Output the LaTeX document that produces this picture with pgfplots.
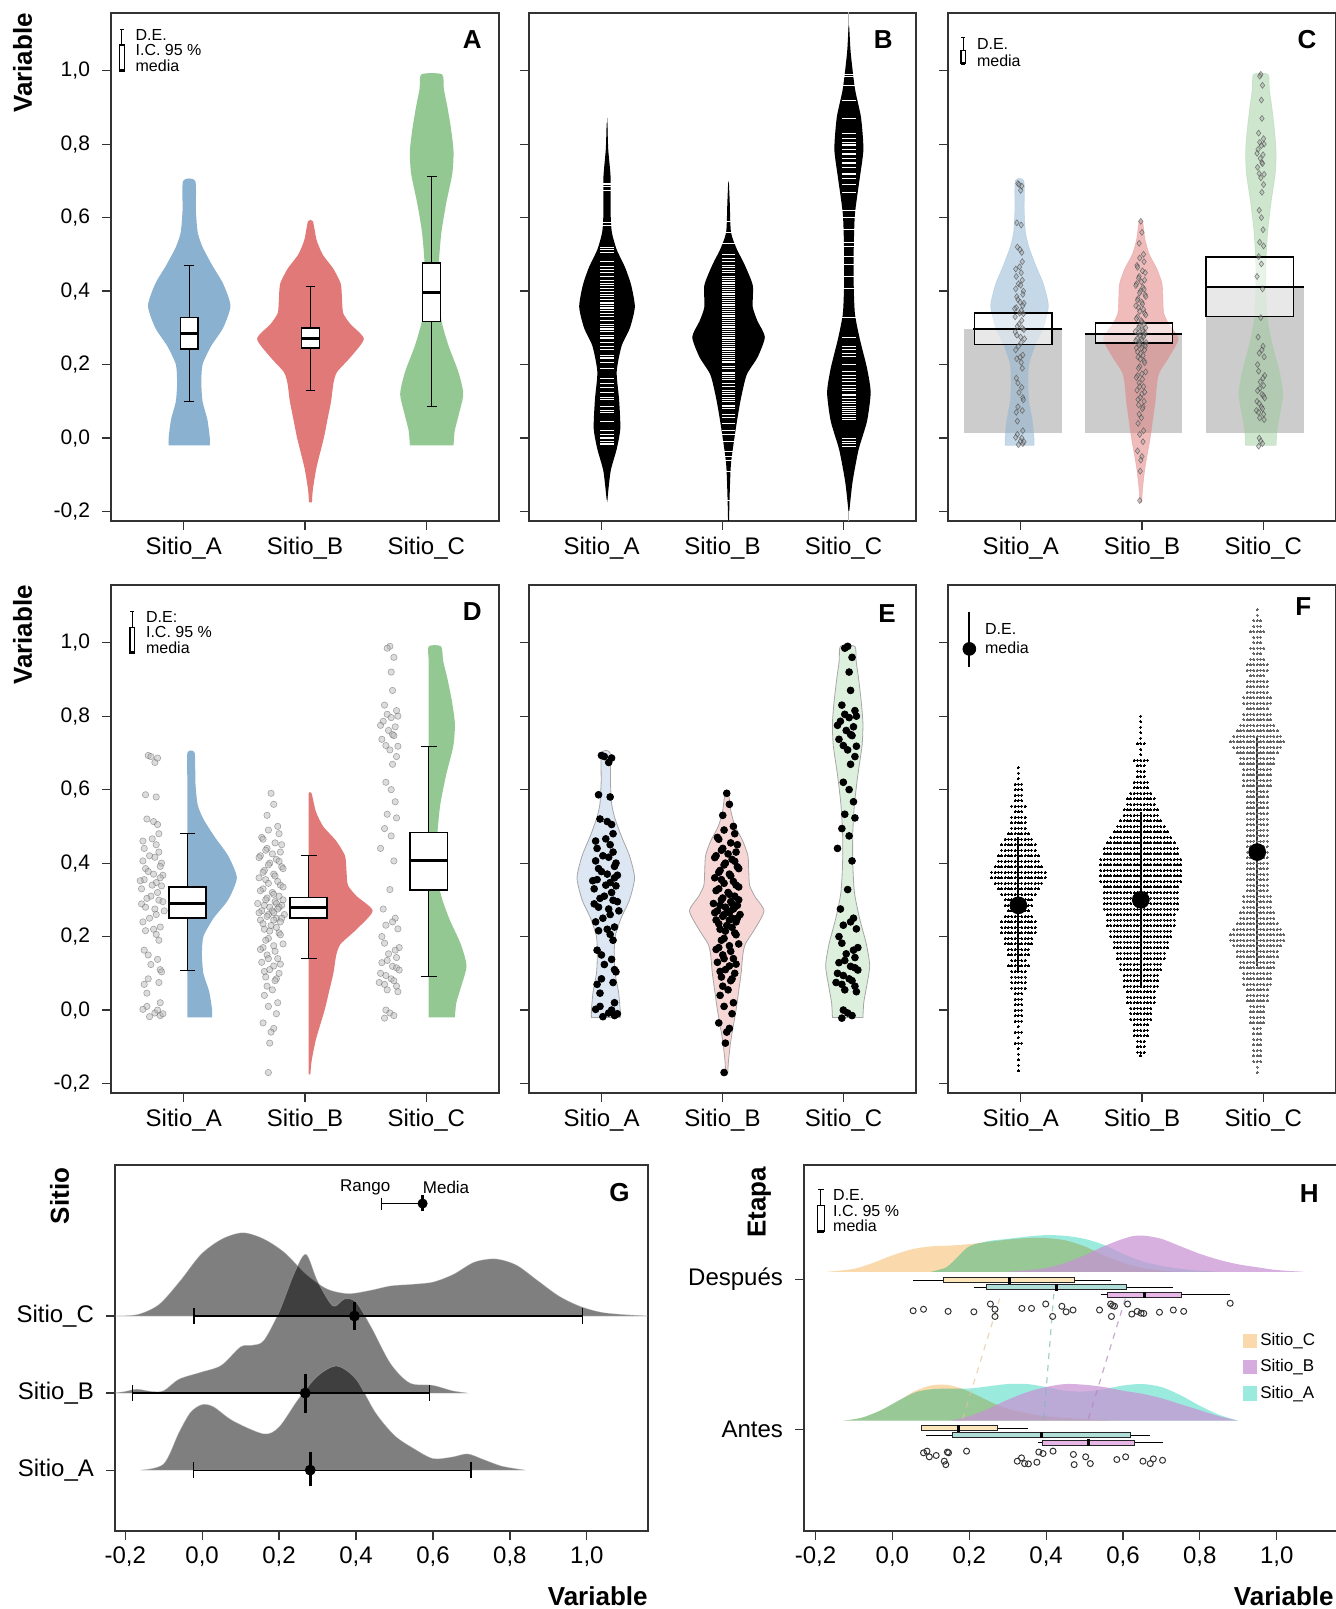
\documentclass[border=0pt]{standalone}
\usepackage{fontspec}
\setmainfont{Liberation Sans}
\usepackage{pgfplots}
\usepackage{pgfplotstable}
\pgfplotsset{compat=1.18}

\definecolor{cA}{RGB}{138,177,208}
\definecolor{cB}{RGB}{224,121,119}
\definecolor{cC}{RGB}{147,200,147}
\definecolor{eA}{RGB}{220,231,243}
\definecolor{eB}{RGB}{247,214,214}
\definecolor{eC}{RGB}{221,239,221}
\definecolor{barg}{RGB}{204,204,204}
\definecolor{hO}{RGB}{250,218,172}
\definecolor{hP}{RGB}{200,145,212}
\definecolor{hPl}{RGB}{214,172,223}
\definecolor{hC}{RGB}{155,234,222}
\definecolor{bO}{RGB}{250,230,185}
\definecolor{bC}{RGB}{175,222,216}
\definecolor{bP}{RGB}{232,182,230}

% ---------- violin profiles (panel A shapes) ----------
\pgfplotstableread{
y w
-0.02 0.17
0.0 0.17
0.05 0.15
0.10 0.11
0.15 0.10
0.20 0.11
0.25 0.18
0.30 0.28
0.36 0.34
0.42 0.28
0.47 0.19
0.52 0.11
0.56 0.07
0.62 0.055
0.70 0.05
}\vA
\pgfplotstableread{
y w
-0.175 0.012
-0.14 0.02
-0.08 0.05
0.0 0.11
0.05 0.14
0.10 0.17
0.15 0.19
0.18 0.22
0.22 0.33
0.27 0.44
0.31 0.33
0.34 0.27
0.38 0.26
0.42 0.25
0.46 0.19
0.50 0.10
0.54 0.05
0.59 0.02
}\vB
\pgfplotstableread{
y w
-0.02 0.18
0.02 0.19
0.06 0.22
0.12 0.26
0.18 0.22
0.25 0.14
0.32 0.08
0.40 0.06
0.48 0.06
0.56 0.08
0.64 0.12
0.72 0.17
0.78 0.18
0.84 0.16
0.90 0.13
0.95 0.10
0.99 0.085
}\vC
% ---------- panel B (bean) profiles ----------
\pgfplotstableread{
y w
-0.168 0.003
-0.09 0.03
-0.03 0.08
0.026 0.11
0.104 0.10
0.18 0.08
0.25 0.12
0.30 0.19
0.357 0.23
0.416 0.20
0.464 0.15
0.513 0.08
0.56 0.04
0.61 0.03
0.708 0.03
0.786 0.01
0.854 0.003
}\bnA
\pgfplotstableread{
y w
-0.227 0.004
-0.168 0.008
-0.07 0.02
0.026 0.06
0.104 0.10
0.172 0.15
0.22 0.24
0.275 0.30
0.318 0.24
0.357 0.20
0.416 0.20
0.474 0.13
0.513 0.07
0.56 0.02
0.64 0.01
0.693 0.003
}\bnB
\pgfplotstableread{
y w
-0.198 0.004
-0.12 0.03
-0.032 0.08
0.046 0.15
0.124 0.18
0.19 0.15
0.27 0.09
0.338 0.05
0.416 0.04
0.513 0.04
0.61 0.05
0.708 0.09
0.786 0.12
0.873 0.10
0.951 0.05
1.049 0.015
1.117 0.003
}\bnC
% ---------- observations (value, jitter) ----------
\pgfplotstableread{
y j
0.693 -0.03
0.674 0.02
0.686 0.04
0.69 -0.01
0.586 -0.05
0.58 0.03
0.52 -0.04
0.513 0.01
0.505 0.04
0.48 0.05
0.466 0.00
0.46 -0.07
0.45 0.03
0.44 -0.06
0.43 0.05
0.42 -0.02
0.416 0.02
0.406 -0.07
0.40 0.07
0.391 0.06
0.385 -0.05
0.377 -0.03
0.37 0.01
0.367 0.08
0.36 0.06
0.355 -0.06
0.352 -0.09
0.347 0.03
0.34 0.00
0.338 0.07
0.33 -0.08
0.32 0.04
0.31 -0.01
0.304 -0.04
0.299 0.05
0.295 0.08
0.289 -0.08
0.28 -0.05
0.275 0.02
0.27 0.09
0.26 0.03
0.25 -0.02
0.24 -0.07
0.226 0.06
0.22 0.01
0.216 -0.05
0.206 0.03
0.19 0.05
0.163 -0.06
0.15 -0.03
0.138 0.04
0.124 -0.01
0.11 0.06
0.104 0.07
0.085 -0.03
0.075 0.05
0.07 -0.06
0.046 -0.04
0.02 0.06
0.01 -0.04
0.002 -0.07
-0.008 0.02
-0.015 0.06
-0.018 -0.02
-0.01 0.08
0.0 0.04
}\dA
\pgfplotstableread{
y j
0.59 0.00
0.56 0.02
0.53 -0.03
0.50 0.05
0.49 -0.02
0.48 0.06
0.47 -0.07
0.465 -0.06
0.455 0.03
0.45 0.08
0.44 -0.03
0.435 -0.04
0.43 0.07
0.425 0.01
0.42 -0.08
0.415 -0.09
0.41 0.04
0.405 0.06
0.40 -0.01
0.395 -0.02
0.39 0.08
0.385 0.09
0.38 -0.05
0.375 -0.06
0.37 0.02
0.365 0.03
0.36 -0.09
0.355 -0.04
0.35 0.05
0.345 -0.02
0.34 0.07
0.335 0.09
0.33 -0.06
0.325 -0.08
0.32 0.01
0.315 0.02
0.31 0.06
0.305 -0.03
0.30 -0.04
0.30 0.09
0.295 0.03
0.29 -0.10
0.29 0.04
0.285 0.08
0.285 -0.05
0.28 -0.01
0.28 0.06
0.275 0.05
0.27 -0.07
0.27 0.01
0.265 0.02
0.265 -0.09
0.26 0.10
0.26 -0.02
0.255 -0.03
0.25 0.04
0.25 0.08
0.245 -0.08
0.245 0.02
0.24 0.07
0.235 -0.06
0.23 0.00
0.225 0.04
0.22 -0.05
0.215 -0.01
0.21 0.06
0.205 0.07
0.195 -0.02
0.19 -0.04
0.18 0.09
0.175 0.02
0.17 -0.06
0.165 -0.08
0.16 0.03
0.15 -0.03
0.14 0.05
0.14 -0.02
0.13 -0.07
0.125 0.07
0.12 0.02
0.11 -0.01
0.105 -0.05
0.10 0.06
0.09 -0.04
0.085 0.04
0.08 0.03
0.065 -0.03
0.055 0.01
0.04 -0.05
0.02 0.05
0.01 -0.02
-0.01 0.04
-0.035 -0.06
-0.05 0.02
-0.06 0.00
-0.09 -0.01
-0.17 -0.02
}\dB
\pgfplotstableread{
y j
0.99 0.00
0.985 -0.02
0.96 0.03
0.92 0.01
0.87 0.02
0.83 -0.04
0.815 0.05
0.805 -0.02
0.80 0.06
0.796 0.01
0.786 -0.05
0.775 -0.07
0.771 0.04
0.761 -0.01
0.75 0.02
0.747 0.03
0.737 -0.06
0.72 -0.03
0.718 0.06
0.708 0.00
0.69 0.05
0.669 0.02
0.62 -0.03
0.60 0.01
0.567 0.04
0.533 -0.02
0.523 0.05
0.494 -0.04
0.474 0.01
0.44 -0.07
0.406 0.03
0.328 0.00
0.275 -0.05
0.25 0.04
0.24 0.02
0.231 -0.03
0.221 0.06
0.20 -0.06
0.182 -0.04
0.17 0.07
0.163 0.04
0.153 -0.01
0.143 0.05
0.135 -0.02
0.129 -0.06
0.119 0.02
0.115 0.05
0.109 0.07
0.10 -0.07
0.094 -0.03
0.085 0.01
0.08 0.03
0.075 -0.08
0.07 -0.04
0.065 0.05
0.055 -0.02
0.05 0.06
0.0 -0.03
-0.008 0.00
-0.015 0.03
-0.022 -0.04
}\dC
% ---------- G ridges ----------
\pgfplotstableread{
x h
-0.227 0
-0.167 0.02
-0.112 0.15
-0.058 0.45
-0.003 0.80
0.052 1.0
0.106 1.08
0.16 1.0
0.215 0.82
0.27 0.54
0.325 0.35
0.38 0.29
0.435 0.33
0.49 0.39
0.544 0.41
0.60 0.44
0.653 0.54
0.708 0.70
0.763 0.74
0.817 0.66
0.872 0.46
0.927 0.26
0.98 0.13
1.035 0.05
1.09 0.02
1.16 0
}\gC
\pgfplotstableread{
x h
-0.23 0
-0.20 0.02
-0.17 0.05
-0.13 0.02
-0.10 0.03
-0.06 0.18
-0.003 0.27
0.05 0.36
0.10 0.60
0.13 0.62
0.16 0.68
0.20 1.05
0.24 1.56
0.27 1.80
0.30 1.45
0.34 1.13
0.37 1.22
0.40 1.18
0.44 0.85
0.49 0.38
0.54 0.13
0.60 0.10
0.65 0.03
0.69 0
}\gB
\pgfplotstableread{
x h
-0.16 0
-0.10 0.08
-0.06 0.49
-0.03 0.75
0.0 0.85
0.03 0.82
0.08 0.64
0.16 0.47
0.20 0.56
0.25 0.92
0.30 1.22
0.35 1.35
0.40 1.18
0.45 0.75
0.50 0.45
0.55 0.28
0.60 0.15
0.65 0.17
0.69 0.21
0.73 0.14
0.78 0.05
0.84 0
}\gA
% ---------- H ridges ----------
\pgfplotstableread{
x h
-0.17 0
-0.10 0.02
-0.05 0.06
0.0 0.11
0.05 0.15
0.10 0.17
0.15 0.175
0.20 0.185
0.25 0.20
0.30 0.215
0.35 0.225
0.40 0.225
0.45 0.21
0.50 0.17
0.55 0.11
0.60 0.06
0.65 0.025
0.70 0.008
0.75 0
}\hDC
\pgfplotstableread{
x h
0.10 0
0.14 0.03
0.17 0.10
0.20 0.17
0.25 0.205
0.30 0.22
0.35 0.235
0.40 0.245
0.45 0.24
0.50 0.22
0.55 0.18
0.60 0.12
0.65 0.07
0.70 0.04
0.75 0.02
0.80 0.008
0.85 0
}\hDA
\pgfplotstableread{
x h
0.30 0
0.35 0.01
0.40 0.025
0.45 0.06
0.50 0.11
0.55 0.17
0.60 0.22
0.63 0.24
0.66 0.24
0.70 0.22
0.75 0.17
0.80 0.12
0.85 0.08
0.90 0.05
0.95 0.03
1.00 0.012
1.07 0
}\hDB
\pgfplotstableread{
x h
-0.13 0
-0.08 0.02
-0.03 0.07
0.02 0.14
0.06 0.20
0.10 0.235
0.14 0.24
0.18 0.215
0.22 0.17
0.26 0.12
0.30 0.08
0.35 0.05
0.40 0.03
0.50 0.01
0.60 0
}\hAC
\pgfplotstableread{
x h
-0.13 0
-0.08 0.02
-0.03 0.07
0.02 0.14
0.06 0.19
0.10 0.21
0.15 0.215
0.20 0.215
0.25 0.23
0.30 0.245
0.35 0.245
0.40 0.225
0.45 0.20
0.50 0.195
0.55 0.21
0.60 0.235
0.65 0.245
0.70 0.225
0.75 0.17
0.80 0.10
0.85 0.04
0.90 0
}\hAA
\pgfplotstableread{
x h
0.15 0
0.20 0.03
0.25 0.08
0.30 0.14
0.35 0.19
0.40 0.225
0.45 0.245
0.50 0.24
0.55 0.225
0.60 0.20
0.65 0.18
0.70 0.15
0.75 0.11
0.80 0.07
0.85 0.03
0.90 0
}\hAB

% ---------- closed outlines: right side upward (s=1), then left side downward (s=-1) ----------
\newcommand{\mkfull}[2]{%
 \pgfplotstablesort[sort key=y, sort cmp=float >]{\tmpRev}{#1}%
 \pgfplotstablecreatecol[create col/set={-1}]{s}{\tmpRev}%
 \pgfplotstablesort[sort key=y, sort cmp=float <]{#2}{#1}%
 \pgfplotstablecreatecol[create col/set={1}]{s}{#2}%
 \pgfplotstablevertcat{#2}{\tmpRev}%
}
\mkfull{\vA}{\fvA}
\mkfull{\vB}{\fvB}
\mkfull{\vC}{\fvC}
\mkfull{\bnA}{\fbA}
\mkfull{\bnB}{\fbB}
\mkfull{\bnC}{\fbC}

% ---------- helpers ----------
\newcommand{\violin}[4]{%
 \addplot[#4, smooth, tension=0.4, forget plot] table[x expr={#2+#3*\thisrow{s}*\thisrow{w}}, y=y] {#1} -- cycle;
}
\newcommand{\halfviolin}[4]{%
 \addplot[#4, smooth, tension=0.4, forget plot] table[x expr={#2+#3*max(\thisrow{s},0)*\thisrow{w}}, y=y] {#1} -- cycle;
}
\newcommand{\boxv}[8]{%
 \pgfmathsetmacro\bxl{#1-#2}\pgfmathsetmacro\bxr{#1+#2}%
 \pgfmathsetmacro\cxl{#1-#8}\pgfmathsetmacro\cxr{#1+#8}%
 \edef\mytmp{\noexpand\addplot[black, line width=0.5pt] coordinates {(#1,#3) (#1,#4)};%
  \noexpand\addplot[black, line width=0.5pt] coordinates {(#1,#6) (#1,#7)};%
  \noexpand\addplot[black, line width=0.5pt] coordinates {(\cxl,#3) (\cxr,#3)};%
  \noexpand\addplot[black, line width=0.5pt] coordinates {(\cxl,#7) (\cxr,#7)};%
  \noexpand\addplot[fill=white, draw=black, line width=0.7pt] coordinates {(\bxl,#4) (\bxr,#4) (\bxr,#6) (\bxl,#6)} --cycle;%
  \noexpand\addplot[black, line width=1.6pt] coordinates {(\bxl,#5) (\bxr,#5)};}\mytmp
}
\newcommand{\boxh}[7]{%
 \pgfmathsetmacro\byl{#1-0.017}\pgfmathsetmacro\byu{#1+0.017}%
 \pgfmathsetmacro\myl{#1-0.021}\pgfmathsetmacro\myu{#1+0.021}%
 \edef\mytmp{\noexpand\addplot[black, line width=0.5pt] coordinates {(#2,#1) (#6,#1)};%
  \noexpand\addplot[fill=#7, draw=black!85, line width=0.5pt] coordinates {(#3,\byl) (#5,\byl) (#5,\byu) (#3,\byu)} --cycle;%
  \noexpand\addplot[black, line width=1.5pt] coordinates {(#4,\myl) (#4,\myu)};}\mytmp
}
\newcommand{\legglyph}[5]{%
 \pgfmathsetmacro\gl{#1-#5}\pgfmathsetmacro\gr{#1+#5}%
 \pgfmathsetmacro\gcl{#1-0.8*#5}\pgfmathsetmacro\gcr{#1+0.8*#5}%
 \edef\mytmp{\noexpand\addplot[black, line width=0.5pt] coordinates {(#1,#2) (#1,#3)};%
  \noexpand\addplot[black, line width=0.5pt] coordinates {(\gcl,#2) (\gcr,#2)};%
  \noexpand\addplot[fill=white, draw=black, line width=0.6pt] coordinates {(\gl,#4) (\gr,#4) (\gr,#3) (\gl,#3)} --cycle;%
  \noexpand\addplot[black, line width=1.5pt] coordinates {(\gl,#4) (\gr,#4)};}\mytmp
}
\newcommand{\buildbee}[3]{%
 \gdef#1{}%
 \foreach \yy/\nn in {#3}{%
  \foreach \kk in {-\nn,...,\nn}{%
   \pgfmathsetmacro\xx{#2+0.0275*\kk}%
   \xdef#1{#1 (\xx,\yy)}%
  }%
 }%
}

\pgfplotsset{
 panel/.style={scale only axis, anchor=north west,
   axis line style={black!80, line width=0.6pt},
   tick align=outside, tick pos=left, major tick length=4.5pt,
   tick style={black!80, line width=0.6pt},
   yticklabel style={xshift=-2.5pt}},
 rowpanel/.style={panel, width=194pt, height=254pt,
   xmin=0.4, xmax=3.6, ymin=-0.2257, ymax=1.157,
   xtick={1,2,3}, xticklabels={Sitio\_A,Sitio\_B,Sitio\_C},
   ytick={-0.2,0,0.2,0.4,0.6,0.8,1.0}, yticklabels={},
   xticklabel style={font=\fontsize{12}{12}\selectfont},
   yticklabel style={font=\fontsize{10.5}{10.5}\selectfont}},
 yvals/.style={yticklabels={{-0,2},{0,0},{0,2},{0,4},{0,6},{0,8},{1,0}}},
}
\tikzset{
 txt8/.style={anchor=west, inner sep=0pt, font=\fontsize{8}{8}\selectfont},
 letter/.style={inner sep=0pt, font=\bfseries\fontsize{13}{13}\selectfont},
}

\begin{document}%
\begin{tikzpicture}
\buildbee{\beeA}{0.98}{0.66/0,0.645/0,0.63/0,0.615/1,0.60/1,0.585/1,0.57/1,0.555/2,0.54/1,0.525/2,0.51/2,0.495/2,0.48/3,0.465/4,0.45/5,0.435/5,0.42/6,0.405/6,0.39/7,0.375/8,0.36/8,0.345/7,0.33/6,0.315/5,0.30/4,0.285/4,0.27/3,0.255/4,0.24/5,0.225/5,0.21/5,0.195/4,0.18/4,0.165/3,0.15/3,0.135/2,0.12/3,0.105/2,0.09/2,0.075/2,0.06/2,0.045/1,0.03/1,0.015/1,0.0/1,-0.015/1,-0.03/1,-0.045/0,-0.06/1,-0.075/0,-0.09/1,-0.105/0,-0.12/0,-0.135/0,-0.15/0,-0.165/0}
\buildbee{\beeB}{1.99}{0.80/0,0.785/0,0.77/0,0.755/0,0.74/0,0.725/1,0.71/0,0.695/0,0.68/2,0.665/1,0.65/1,0.635/1,0.62/2,0.605/2,0.59/3,0.575/4,0.56/4,0.545/5,0.53/5,0.515/6,0.50/7,0.485/8,0.47/9,0.455/10,0.44/11,0.425/11,0.41/12,0.395/12,0.38/12,0.365/12,0.35/12,0.335/11,0.32/11,0.305/11,0.29/11,0.275/11,0.26/10,0.245/10,0.23/10,0.215/9,0.20/9,0.185/8,0.17/8,0.155/7,0.14/7,0.125/6,0.11/6,0.095/5,0.08/5,0.065/5,0.05/4,0.035/4,0.02/4,0.005/3,-0.01/3,-0.025/3,-0.04/2,-0.055/2,-0.07/2,-0.085/1,-0.10/1,-0.115/1,-0.125/0}
\buildbee{\beeC}{2.95}{1.09/0,1.075/0,1.06/1,1.045/1,1.03/2,1.015/1,1.0/1,0.985/2,0.97/1,0.955/2,0.94/3,0.925/3,0.91/2,0.895/3,0.88/3,0.865/3,0.85/4,0.835/4,0.82/3,0.805/4,0.79/4,0.775/5,0.76/6,0.745/7,0.73/8,0.715/7,0.70/6,0.685/5,0.67/5,0.655/4,0.64/4,0.625/4,0.61/4,0.595/3,0.58/3,0.565/3,0.55/3,0.535/3,0.52/3,0.505/3,0.49/3,0.475/3,0.46/3,0.445/3,0.43/3,0.415/3,0.40/3,0.385/3,0.37/3,0.355/3,0.34/3,0.325/3,0.31/4,0.295/4,0.28/4,0.265/5,0.25/5,0.235/6,0.22/7,0.205/8,0.19/8,0.175/7,0.16/6,0.145/6,0.13/5,0.115/5,0.10/4,0.085/4,0.07/4,0.055/3,0.04/3,0.025/3,0.01/2,-0.005/2,-0.02/2,-0.035/2,-0.05/1,-0.065/1,-0.08/1,-0.095/1,-0.11/1,-0.125/1,-0.14/1,-0.155/0,-0.17/0}

% ================= A =================
\begin{axis}[rowpanel, yvals, at={(55.5pt,798pt)}]
\violin{\fvA}{1.045}{1}{fill=cA, draw=none}
\violin{\fvB}{2.045}{1}{fill=cB, draw=none}
\violin{\fvC}{3.045}{1}{fill=cC, draw=none}
\boxv{1.045}{0.074}{0.099}{0.242}{0.284}{0.328}{0.469}{0.04}
\boxv{2.045}{0.074}{0.129}{0.245}{0.272}{0.30}{0.413}{0.04}
\boxv{3.045}{0.074}{0.085}{0.318}{0.396}{0.476}{0.713}{0.04}
\legglyph{0.49}{1.112}{1.07}{1.0}{0.022}
\node[txt8] at (axis cs:0.60,1.098) {D.E.};
\node[txt8] at (axis cs:0.60,1.056) {I.C. 95 \%};
\node[txt8] at (axis cs:0.60,1.014) {media};
\node[letter] at (axis cs:3.38,1.084) {A};
\end{axis}

% ================= B =================
\begin{axis}[rowpanel, at={(264.5pt,798pt)}, width=193.5pt]
\addplot[gray!60, line width=0.4pt] coordinates {(1.045,-0.175) (1.045,0.87)};
\addplot[gray!60, line width=0.4pt] coordinates {(2.05,-0.23) (2.05,0.70)};
\addplot[gray!60, line width=0.4pt] coordinates {(3.045,-0.23) (3.045,1.16)};
\violin{\fbA}{1.045}{1}{fill=black, draw=none}
\violin{\fbB}{2.05}{1}{fill=black, draw=none}
\violin{\fbC}{3.045}{1}{fill=black, draw=none}
\addplot[only marks, mark=-, mark size=3.4pt, white, mark options={line width=0.4pt}] table[x expr=1.045, y=y] {\dA};
\addplot[only marks, mark=-, mark size=3.4pt, white, mark options={line width=0.4pt}] table[x expr=2.05, y=y] {\dB};
\addplot[only marks, mark=-, mark size=3.4pt, white, mark options={line width=0.4pt}] table[x expr=3.045, y=y] {\dC};
\node[letter] at (axis cs:3.33,1.084) {B};
\end{axis}

% ================= C =================
\begin{axis}[rowpanel, at={(474pt,798pt)}]
\addplot[fill=barg, draw=none] coordinates {(0.533,0.015) (1.339,0.015) (1.339,0.297) (0.533,0.297)} --cycle;
\addplot[fill=barg, draw=none] coordinates {(1.533,0.015) (2.333,0.015) (2.333,0.284) (1.533,0.284)} --cycle;
\addplot[fill=barg, draw=none] coordinates {(2.528,0.015) (3.333,0.015) (3.333,0.411) (2.528,0.411)} --cycle;
\violin{\fvA}{0.99}{0.7}{fill=cA, fill opacity=0.5, draw=cA!80, draw opacity=0.5, line width=0.3pt}
\violin{\fvB}{1.99}{0.7}{fill=cB, fill opacity=0.5, draw=cB!80, draw opacity=0.5, line width=0.3pt}
\violin{\fvC}{2.98}{0.7}{fill=cC, fill opacity=0.45, draw=cC!80, draw opacity=0.5, line width=0.3pt}
\addplot[only marks, mark=diamond*, mark size=1.5pt, mark options={fill=gray!70, draw=black!80, fill opacity=0.45, draw opacity=0.55, line width=0.3pt}] table[x expr={0.99+0.45*\thisrow{j}}, y=y] {\dA};
\addplot[only marks, mark=diamond*, mark size=1.5pt, mark options={fill=gray!70, draw=black!80, fill opacity=0.45, draw opacity=0.55, line width=0.3pt}] table[x expr={1.99+0.45*\thisrow{j}}, y=y] {\dB};
\addplot[only marks, mark=diamond*, mark size=1.5pt, mark options={fill=gray!70, draw=black!80, fill opacity=0.45, draw opacity=0.55, line width=0.3pt}] table[x expr={2.98+0.45*\thisrow{j}}, y=y] {\dC};
\addplot[fill=white, fill opacity=0.55, draw=black, line width=0.8pt] coordinates {(0.617,0.255) (1.256,0.255) (1.256,0.34) (0.617,0.34)} --cycle;
\addplot[fill=white, fill opacity=0.55, draw=black, line width=0.8pt] coordinates {(1.617,0.258) (2.25,0.258) (2.25,0.3135) (1.617,0.3135)} --cycle;
\addplot[fill=white, fill opacity=0.55, draw=black, line width=0.8pt] coordinates {(2.528,0.331) (3.25,0.331) (3.25,0.492) (2.528,0.492)} --cycle;
\addplot[black, line width=0.8pt] coordinates {(0.61,0.297) (1.344,0.297)};
\addplot[black, line width=0.8pt] coordinates {(1.533,0.284) (2.333,0.284)};
\addplot[black, line width=0.8pt] coordinates {(2.528,0.411) (3.333,0.411)};
\legglyph{0.525}{1.09}{1.055}{1.02}{0.018}
\node[txt8] at (axis cs:0.636,1.073) {D.E.};
\node[txt8] at (axis cs:0.636,1.028) {media};
\node[letter] at (axis cs:3.36,1.084) {C};
\end{axis}

% ================= D =================
\begin{axis}[rowpanel, yvals, at={(55.5pt,512pt)}]
\halfviolin{\fvA}{1.03}{1.2}{fill=cA, draw=none}
\halfviolin{\fvB}{2.03}{1.2}{fill=cB, draw=none}
\halfviolin{\fvC}{3.02}{1.2}{fill=cC, draw=none}
\addplot[only marks, mark=*, mark size=1.6pt, mark options={fill=gray!55, draw=black!70, fill opacity=0.5, draw opacity=0.45, line width=0.3pt}] table[x expr={0.74+1.1*\thisrow{j}}, y=y] {\dA};
\addplot[only marks, mark=*, mark size=1.6pt, mark options={fill=gray!55, draw=black!70, fill opacity=0.5, draw opacity=0.45, line width=0.3pt}] table[x expr={1.72+1.1*\thisrow{j}}, y=y] {\dB};
\addplot[only marks, mark=*, mark size=1.6pt, mark options={fill=gray!55, draw=black!70, fill opacity=0.5, draw opacity=0.45, line width=0.3pt}] table[x expr={2.70+1.1*\thisrow{j}}, y=y] {\dC};
\boxv{1.03}{0.153}{0.109}{0.251}{0.29}{0.335}{0.48}{0.065}
\boxv{2.03}{0.153}{0.14}{0.251}{0.279}{0.307}{0.42}{0.065}
\boxv{3.02}{0.153}{0.092}{0.327}{0.408}{0.483}{0.718}{0.065}
\legglyph{0.576}{1.084}{1.042}{0.972}{0.02}
\node[txt8] at (axis cs:0.686,1.07) {D.E:};
\node[txt8] at (axis cs:0.686,1.028) {I.C. 95 \%};
\node[txt8] at (axis cs:0.686,0.986) {media};
\node[letter] at (axis cs:3.38,1.084) {D};
\end{axis}

% ================= E =================
\begin{axis}[rowpanel, at={(264.5pt,512pt)}, width=193.5pt]
\violin{\fvA}{1.035}{0.7}{fill=eA, draw=gray!70, line width=0.4pt}
\violin{\fvB}{2.035}{0.7}{fill=eB, draw=gray!70, line width=0.4pt}
\violin{\fvC}{3.035}{0.7}{fill=eC, draw=gray!70, line width=0.4pt}
\addplot[only marks, mark=*, mark size=1.7pt, black] table[x expr={1.035+1.2*\thisrow{j}}, y=y] {\dA};
\addplot[only marks, mark=*, mark size=1.7pt, black] table[x expr={2.035+1.1*\thisrow{j}}, y=y] {\dB};
\addplot[only marks, mark=*, mark size=1.7pt, black] table[x expr={3.035+1.2*\thisrow{j}}, y=y] {\dC};
\node[letter] at (axis cs:3.36,1.08) {E};
\end{axis}

% ================= F =================
\begin{axis}[rowpanel, at={(474pt,512pt)}]
\edef\mytmp{\noexpand\addplot[only marks, mark=*, mark size=0.5pt, black, mark options={line width=0pt}] coordinates {\beeA};}\mytmp
\edef\mytmp{\noexpand\addplot[only marks, mark=*, mark size=0.5pt, black, mark options={line width=0pt}] coordinates {\beeB};}\mytmp
\edef\mytmp{\noexpand\addplot[only marks, mark=*, mark size=0.5pt, black!60, mark options={line width=0pt}] coordinates {\beeC};}\mytmp
\addplot[black, line width=0.9pt] coordinates {(0.98,0.10) (0.98,0.47)};
\addplot[black, line width=0.9pt] coordinates {(1.99,0.06) (1.99,0.54)};
\addplot[black!80, line width=0.9pt] coordinates {(2.95,0.12) (2.95,0.74)};
\addplot[only marks, mark=*, mark size=4.2pt, black] coordinates {(0.98,0.285) (1.99,0.30) (2.95,0.43)};
\addplot[black, line width=1pt] coordinates {(0.576,1.084) (0.576,0.933)};
\addplot[only marks, mark=*, mark size=3.2pt, black] coordinates {(0.576,0.983)};
\node[txt8] at (axis cs:0.703,1.036) {D.E.};
\node[txt8] at (axis cs:0.703,0.986) {media};
\node[letter] at (axis cs:3.33,1.098) {F};
\end{axis}

% ================= G =================
\begin{axis}[panel, at={(57.5pt,222pt)}, width=266.5pt, height=183pt,
  xmin=-0.2265, xmax=1.159, ymin=0.21, ymax=4.96,
  xtick={-0.2,0,0.2,0.4,0.6,0.8,1.0},
  xticklabels={{-0,2},{0,0},{0,2},{0,4},{0,6},{0,8},{1,0}},
  ytick={1,2,3}, yticklabels={Sitio\_A,Sitio\_B,Sitio\_C},
  ticklabel style={font=\fontsize{12}{12}\selectfont}]
\addplot[fill=black, fill opacity=0.5, draw=gray!60, draw opacity=0.5, line width=0.3pt, smooth] table[x=x, y expr={3+\thisrow{h}}] {\gC} --cycle;
\addplot[fill=black, fill opacity=0.5, draw=gray!60, draw opacity=0.5, line width=0.3pt, smooth] table[x=x, y expr={2+\thisrow{h}}] {\gB} --cycle;
\addplot[fill=black, fill opacity=0.5, draw=gray!60, draw opacity=0.5, line width=0.3pt, smooth] table[x=x, y expr={1+\thisrow{h}}] {\gA} --cycle;
\addplot[black, line width=0.6pt, mark=|, mark size=4pt, mark options={line width=0.6pt}] coordinates {(-0.021,3) (0.989,3)};
\addplot[black, line width=0.6pt, mark=|, mark size=4pt, mark options={line width=0.6pt}] coordinates {(-0.18,2) (0.591,2)};
\addplot[black, line width=0.6pt, mark=|, mark size=4pt, mark options={line width=0.6pt}] coordinates {(-0.022,1) (0.699,1)};
\addplot[black, line width=1.3pt] coordinates {(0.396,2.82) (0.396,3.18)};
\addplot[black, line width=1.3pt] coordinates {(0.268,1.74) (0.268,2.25)};
\addplot[black, line width=1.3pt] coordinates {(0.281,0.79) (0.281,1.23)};
\addplot[only marks, mark=*, mark size=2.5pt, black] coordinates {(0.396,3) (0.268,2) (0.281,1)};
% legend
\addplot[black, line width=0.6pt, mark=|, mark size=3pt, mark options={line width=0.6pt}, mark indices={1}] coordinates {(0.467,4.46) (0.573,4.46)};
\addplot[black, line width=1.3pt] coordinates {(0.573,4.36) (0.573,4.57)};
\addplot[only marks, mark=*, mark size=2.3pt, black] coordinates {(0.573,4.46)};
\node[inner sep=0pt, font=\fontsize{8.5}{8.5}\selectfont] at (axis cs:0.424,4.675) {Rango};
\node[inner sep=0pt, font=\fontsize{8.5}{8.5}\selectfont] at (axis cs:0.634,4.675) {Media};
\node[letter] at (axis cs:1.085,4.6) {G};
\end{axis}

% ================= H =================
\begin{axis}[panel, at={(402pt,222pt)}, width=269pt, height=183pt,
  xmin=-0.23, xmax=1.17, ymin=0.32, ymax=2.763,
  xtick={-0.2,0,0.2,0.4,0.6,0.8,1.0},
  xticklabels={{-0,2},{0,0},{0,2},{0,4},{0,6},{0,8},{1,0}},
  ytick={1,2}, yticklabels={Antes,Después},
  ticklabel style={font=\fontsize{12}{12}\selectfont},
  legend style={at={(axis cs:0.91,1.67)}, anchor=north west, draw=none, fill=none,
    font=\fontsize{8.5}{8.5}\selectfont, row sep=1.5pt, inner sep=0pt},
  legend cell align=left]
\addlegendimage{legend image code/.code={\fill[hO] (0pt,-3.3pt) rectangle (6.5pt,3.3pt);}}
\addlegendentry{Sitio\_C}
\addlegendimage{legend image code/.code={\fill[hPl] (0pt,-3.3pt) rectangle (6.5pt,3.3pt);}}
\addlegendentry{Sitio\_B}
\addlegendimage{legend image code/.code={\fill[hC] (0pt,-3.3pt) rectangle (6.5pt,3.3pt);}}
\addlegendentry{Sitio\_A}
\addplot[fill=hO, draw=none, blend mode=multiply, smooth] table[x=x, y expr={2.05+\thisrow{h}}] {\hDC} --cycle;
\addplot[fill=hC, draw=none, blend mode=multiply, smooth] table[x=x, y expr={2.05+\thisrow{h}}] {\hDA} --cycle;
\addplot[fill=hP, fill opacity=0.72, draw=none, smooth] table[x=x, y expr={2.05+\thisrow{h}}] {\hDB} --cycle;
\addplot[fill=hO, draw=none, blend mode=multiply, smooth] table[x=x, y expr={1.056+\thisrow{h}}] {\hAC} --cycle;
\addplot[fill=hC, draw=none, blend mode=multiply, smooth] table[x=x, y expr={1.056+\thisrow{h}}] {\hAA} --cycle;
\addplot[fill=hP, fill opacity=0.72, draw=none, smooth] table[x=x, y expr={1.056+\thisrow{h}}] {\hAB} --cycle;
\addplot[hO!90!black, dashed, line width=0.6pt, opacity=0.7] coordinates {(0.183,1.068) (0.283,1.903)};
\addplot[hC!80!black, dashed, line width=0.6pt, opacity=0.7] coordinates {(0.394,1.068) (0.42,1.903)};
\addplot[hP!90!black, dashed, line width=0.6pt, opacity=0.7] coordinates {(0.51,1.068) (0.61,1.903)};
\boxh{1.993}{0.054}{0.132}{0.304}{0.473}{0.57}{bO}
\boxh{1.946}{0.212}{0.246}{0.426}{0.61}{0.731}{bC}
\boxh{1.896}{0.542}{0.56}{0.655}{0.753}{0.879}{bP}
\boxh{1.005}{0.075}{0.075}{0.172}{0.273}{0.354}{bO}
\boxh{0.96}{0.088}{0.157}{0.389}{0.62}{0.671}{bC}
\boxh{0.91}{0.378}{0.391}{0.51}{0.629}{0.703}{bP}
\addplot[only marks, mark=o, mark size=1.5pt, black!80, mark options={line width=0.5pt}] coordinates {(0.054,1.79) (0.081,1.80) (0.145,1.786) (0.212,1.783) (0.255,1.835) (0.267,1.80) (0.267,1.752) (0.337,1.806) (0.362,1.806) (0.399,1.835) (0.417,1.752) (0.441,1.82) (0.452,1.783) (0.47,1.795) (0.539,1.795) (0.568,1.835) (0.570,1.752) (0.573,1.824) (0.578,1.82) (0.612,1.835) (0.623,1.768) (0.637,1.786) (0.647,1.774) (0.654,1.772) (0.695,1.78) (0.731,1.795) (0.758,1.786) (0.879,1.84)};
\addplot[only marks, mark=o, mark size=1.5pt, black!80, mark options={line width=0.5pt}] coordinates {(0.081,0.842) (0.09,0.853) (0.096,0.815) (0.114,0.824) (0.135,0.786) (0.139,0.763) (0.143,0.847) (0.146,0.842) (0.193,0.853) (0.325,0.786) (0.336,0.808) (0.344,0.77) (0.354,0.768) (0.376,0.779) (0.381,0.847) (0.392,0.837) (0.418,0.853) (0.471,0.831) (0.473,0.763) (0.503,0.815) (0.515,0.77) (0.584,0.797) (0.607,0.815) (0.652,0.786) (0.671,0.77) (0.679,0.801) (0.703,0.792)};
\legglyph{-0.186}{2.60}{2.494}{2.32}{0.009}
\node[txt8] at (axis cs:-0.155,2.562) {D.E.};
\node[txt8] at (axis cs:-0.155,2.456) {I.C. 95 \%};
\node[txt8] at (axis cs:-0.155,2.354) {media};
\node[letter] at (axis cs:1.085,2.575) {H};
\end{axis}

% axis titles
\node[rotate=90, inner sep=0pt, font=\bfseries\fontsize{13}{13}\selectfont] at (11.3pt,773pt) {Variable};
\node[rotate=90, inner sep=0pt, font=\bfseries\fontsize{13}{13}\selectfont] at (11.3pt,487pt) {Variable};
\node[rotate=90, inner sep=0pt, font=\bfseries\fontsize{13}{13}\selectfont] at (29.8pt,206.5pt) {Sitio};
\node[rotate=90, inner sep=0pt, font=\bfseries\fontsize{13}{13}\selectfont] at (379.7pt,203.2pt) {Etapa};
\node[anchor=south east, inner sep=0pt, font=\bfseries\fontsize{13}{13}\selectfont] at (324pt,1.5pt) {Variable};
\node[anchor=south east, inner sep=0pt, font=\bfseries\fontsize{13}{13}\selectfont] at (667pt,1.5pt) {Variable};

\pgfresetboundingbox
\path[use as bounding box] (0,0) rectangle (667.5pt,804.5pt);
\end{tikzpicture}%
\end{document}
